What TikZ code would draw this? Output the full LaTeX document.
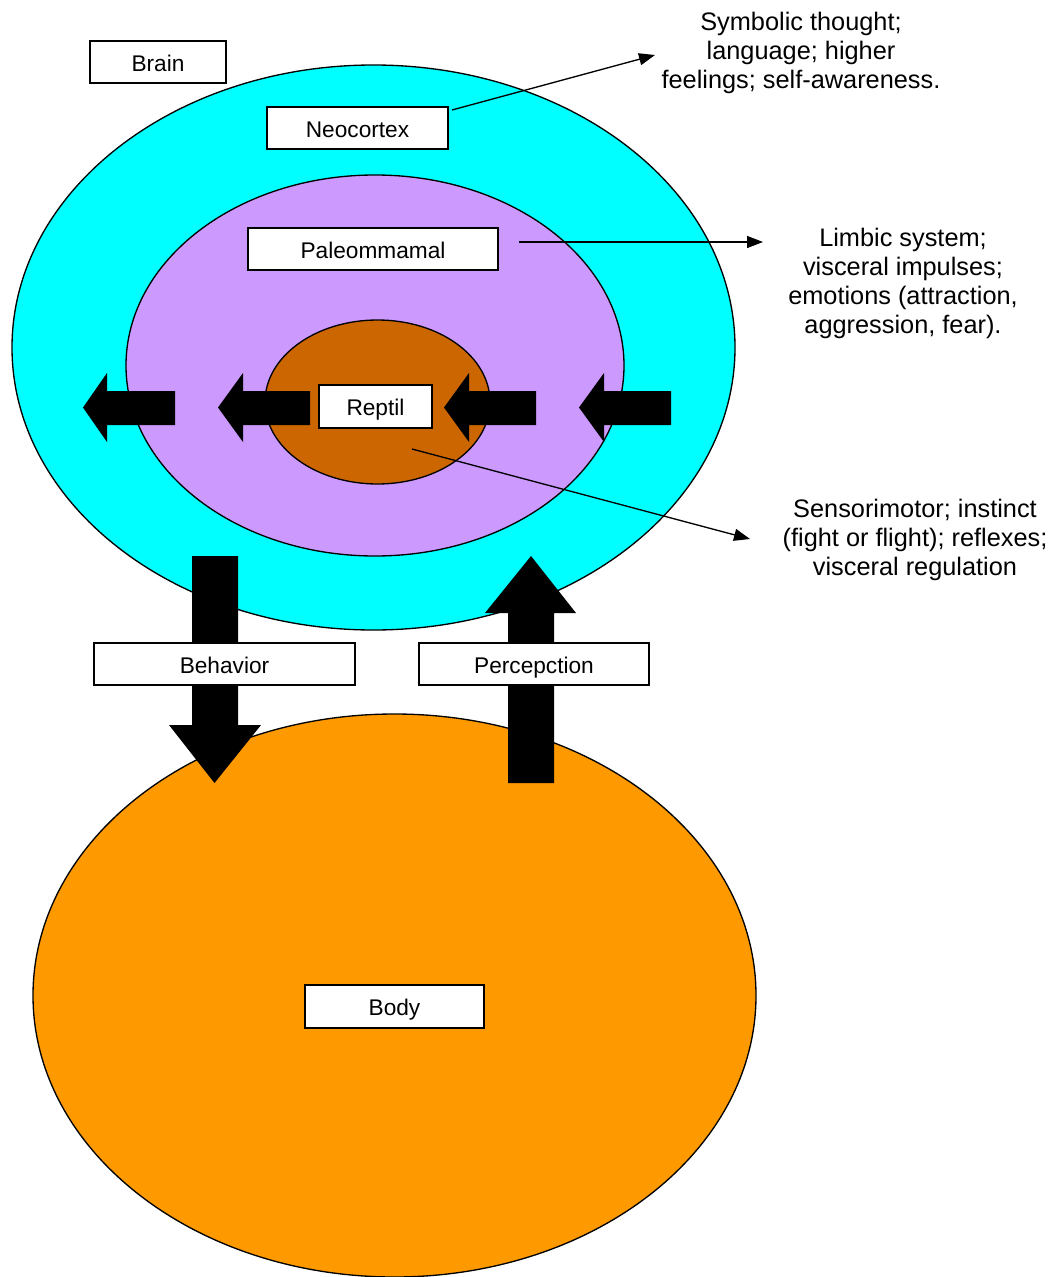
\documentclass[tikz,border=0pt]{standalone}
\usepackage{fontspec}
\setmainfont{Liberation Sans}
\usetikzlibrary{shapes.geometric,arrows.meta}
\definecolor{neo}{HTML}{00FFFF}
\definecolor{paleo}{HTML}{CC99FF}
\definecolor{rept}{HTML}{CC6600}
\definecolor{bodyc}{HTML}{FF9900}
\begin{document}
\begin{tikzpicture}[x=0.75pt,y=-0.75pt,
  region/.style={ellipse,draw=black,line width=1pt,inner sep=0pt},
  labelbox/.style={draw=black,fill=white,line width=0.9pt,inner sep=0pt,
     text height=16pt,text depth=2pt,
     font=\fontsize{17}{20}\selectfont,minimum height=31.5pt},
  sidetext/.style={align=center,inner sep=0pt,font=\fontsize{19}{21.75}\selectfont},
  pointer/.style={line width=1pt,-{Triangle[length=12pt,width=9pt]}},
  blockarrow/.style={fill=black,draw=none}]
\useasboundingbox (0,0) rectangle (1054,1277);
% regions
\node[region,fill=neo,minimum width=542.25pt,minimum height=423.75pt] (neo) at (373.5,347.5) {};
\node[region,fill=paleo,minimum width=373.5pt,minimum height=285.75pt] (paleo) at (375,365.5) {};
\node[region,fill=rept,minimum width=168.75pt,minimum height=123pt] (rept) at (377.5,402) {};
\node[region,fill=bodyc,minimum width=542.25pt,minimum height=422.25pt] (bodyel) at (394.5,995.5) {};
% horizontal block arrows
\foreach \t/\b/\e in {83/107/175, 218/243/310, 444/469/536, 579/604/671}{
  \fill[blockarrow] (\t,407.5) -- (\b,373) -- (\b,391) -- (\e,391) -- (\e,425) -- (\b,425) -- (\b,442) -- cycle;
}
% behavior arrow (down)
\fill[blockarrow] (214.5,783) -- (169,725) -- (192,725) -- (192,556) -- (238,556) -- (238,725) -- (261,725) -- cycle;
% perception arrow (up)
\fill[blockarrow] (531,556) -- (576,613) -- (554,613) -- (554,783) -- (508,783) -- (508,613) -- (485,613) -- cycle;
% label boxes
\node[labelbox,minimum width=102pt] (brain) at (158,62) {Brain};
\node[labelbox,minimum width=135.75pt] (neobox) at (357.5,128) {Neocortex};
\node[labelbox,minimum width=187.5pt] (paleobox) at (373,249) {Paleommamal};
\node[labelbox,minimum width=84.75pt,minimum height=32.25pt] (reptbox) at (375.5,406.5) {Reptil};
\node[labelbox,minimum width=195.75pt] (behav) at (224.5,664) {Behavior};
\node[labelbox,minimum width=172.5pt] (percep) at (534,664) {Percepction};
\node[labelbox,minimum width=134.25pt,minimum height=32.25pt] (bodybox) at (394.5,1006.5) {Body};
% side texts
\node[sidetext] (symb) at (801,53) {Symbolic thought;\\language; higher\\feelings; self-awareness.};
\node[sidetext] (limb) at (903,283.5) {Limbic system;\\visceral impulses;\\emotions (attraction,\\aggression, fear).};
\node[sidetext] (sens) at (915,540) {Sensorimotor; instinct\\(fight or flight); reflexes;\\visceral regulation};
% pointer coordinates
\coordinate (s1) at (452,110);
\coordinate (e1) at (655,55);
\coordinate (s2) at (519,242);
\coordinate (e2) at (763,242);
\coordinate (s3) at (412,449);
\coordinate (e3) at (750,539);
\draw[pointer] (s1) -- (e1);
\draw[pointer] (s2) -- (e2);
\draw[pointer] (s3) -- (e3);
\end{tikzpicture}
\end{document}
